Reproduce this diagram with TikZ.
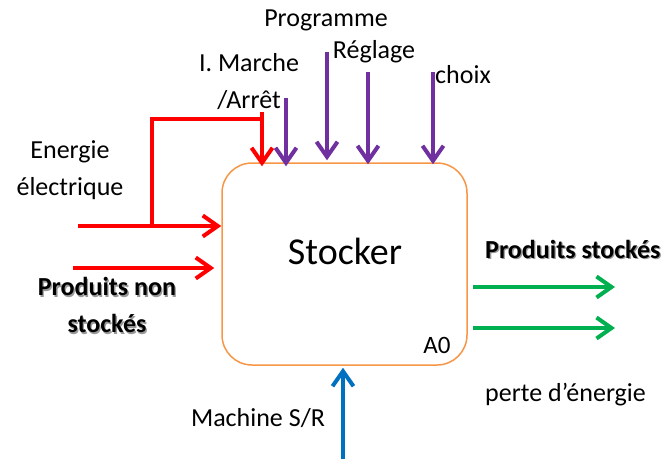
\documentclass[tikz,border=0pt]{standalone}
\usepackage{fontspec}
\setmainfont{Carlito}
\usetikzlibrary{arrows.meta}
\definecolor{inred}{HTML}{FF0000}
\definecolor{ctrlpurple}{HTML}{7030A0}
\definecolor{outgreen}{HTML}{00B050}
\definecolor{mechblue}{HTML}{0070C0}
\definecolor{boxorange}{HTML}{F79646}
% bold label with a soft grey drop shadow
\newcommand\shadowtxt[1]{\leavevmode\rlap{\kern1.3pt\raisebox{-1.3pt}{\color{black!40}#1}}#1}
\begin{document}
\begin{tikzpicture}[x=1pt,y=-1pt,
  lbl/.style={font=\fontsize{26}{37}\selectfont, inner sep=0pt, align=center},
  blbl/.style={font=\fontsize{26}{37}\selectfont\bfseries, inner sep=0pt, align=center},
  flow/.style={line width=4pt, -{Straight Barb[length=15pt,width=21pt,line width=4pt]}},
  plain/.style={line width=4pt},
  activity/.style={draw=boxorange, line width=1.5pt, rounded corners=30pt,
    minimum width=245pt, minimum height=202pt, inner sep=0pt}]
\useasboundingbox (0,0) rectangle (670,459);

% activity box
\node[activity] (A) at (344.5,264) {};
\node[font=\fontsize{38}{44}\selectfont, inner sep=0pt] (stocker) at (345,251) {Stocker};
\node[lbl, font=\fontsize{25}{28}\selectfont, anchor=south east] (a0) at ([xshift=-17pt,yshift=12pt]A.south east) {A0};

% inputs (left)
\node[lbl] (energie) at (70,170) {Energie\\électrique};
\node[blbl] (prodnon) at (107,306) {\shadowtxt{Produits non}\\\shadowtxt{stockés}};
\coordinate (e1) at (78,226);
\coordinate (e2) at (73,268);
\coordinate (br) at (152,226);
\coordinate (tk) at (262,112);
\draw[flow, inred] (e1) -- (e1 -| A.west);
\draw[flow, inred] (e2) -- ([xshift=-7pt]e2 -| A.west);
\draw[plain, inred] (br) -- (br |- 0,119) -- (tk |- 0,119);
\draw[flow, inred] (tk) -- ([yshift=-4pt]tk |- A.north);

% controls (top)
\node[lbl] (marche) at (249,82) {I. Marche\\/Arrêt};
\node[lbl] (prog) at (326,20) {Programme};
\node[lbl] (regl) at (374,52) {Réglage};
\node[lbl, anchor=west] (choix) at (435,75) {choix};
\coordinate (c1) at (286,98);
\coordinate (c2) at (327,52);
\coordinate (c3) at (368,72);
\coordinate (c4) at (433,72);
\draw[flow, ctrlpurple] (c1) -- ([yshift=-4pt]c1 |- A.north);
\draw[flow, ctrlpurple] (c2) -- ([yshift=2pt]c2 |- A.north);
\draw[flow, ctrlpurple] (c3) -- ([yshift=-2pt]c3 |- A.north);
\draw[flow, ctrlpurple] (c4) -- ([yshift=-2pt]c4 |- A.north);

% outputs (right)
\node[blbl, anchor=west] (prodst) at (485,250) {\shadowtxt{Produits stockés}};
\node[lbl, anchor=west] (perte) at (485,395) {perte d’énergie};
\coordinate (o1) at (615,287);
\coordinate (o2) at (615,328);
\draw[flow, outgreen] ([xshift=5pt]o1 -| A.east) -- (o1);
\draw[flow, outgreen] ([xshift=5pt]o2 -| A.east) -- (o2);

% mechanism (bottom)
\node[lbl] (machine) at (258,418) {Machine S/R};
\coordinate (m1) at (343,459);
\draw[flow, mechblue] (m1) -- ([yshift=-2pt]m1 |- A.south);
\end{tikzpicture}
\end{document}
